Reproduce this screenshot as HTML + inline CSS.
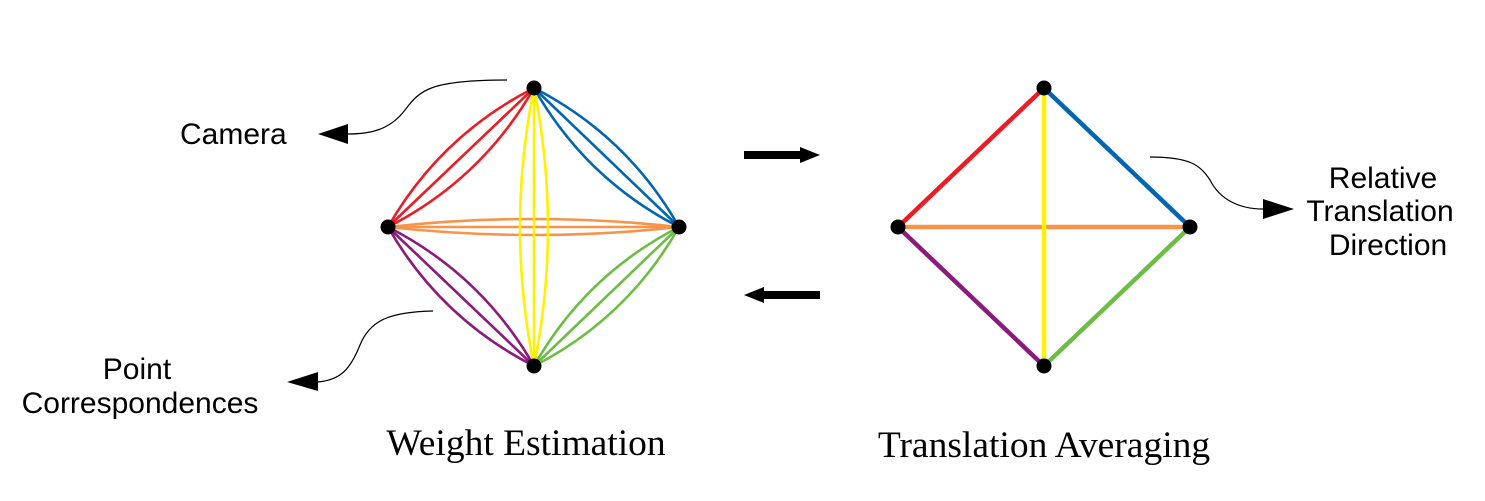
<!DOCTYPE html>
<html><head><meta charset="utf-8"><style>
html,body{margin:0;padding:0;background:#fff;width:1485px;height:501px;overflow:hidden}
svg{display:block}
.s{font-family:"Liberation Sans",sans-serif;font-size:30px;fill:#000}
.t{font-family:"Liberation Serif",serif;font-size:37.5px;fill:#000}
</style></head><body>
<svg id="g" width="1485" height="501" viewBox="0 0 1485 501" xmlns="http://www.w3.org/2000/svg">
<g id="left" fill="none" stroke-width="2.6"></g>
<g fill="none" stroke-width="4.5" stroke-linecap="round">
<line x1="1044" y1="88" x2="898" y2="227" stroke="#ec1c24"/>
<line x1="1044" y1="88" x2="1190" y2="227" stroke="#0066b3"/>
<line x1="898" y1="227" x2="1044" y2="366" stroke="#8b1a7c"/>
<line x1="1190" y1="227" x2="1044" y2="366" stroke="#6dbd45"/>
<line x1="898" y1="227" x2="1190" y2="227" stroke="#f7944a"/>
<line x1="1044" y1="88" x2="1044" y2="366" stroke="#fff200"/>
</g>
<g fill="#000">
<circle cx="534" cy="88" r="7.5"/><circle cx="388" cy="227" r="7.5"/><circle cx="679" cy="227" r="7.5"/><circle cx="534" cy="366" r="7.5"/>
<circle cx="1044" cy="88" r="7.5"/><circle cx="898" cy="227" r="7.5"/><circle cx="1190" cy="227" r="7.5"/><circle cx="1044" cy="366" r="7.5"/>
<polygon points="744,151 800,151 800,147 820,155 800,163 800,159 744,159"/>
<polygon points="820,291 764,291 764,287 744,295 764,303 764,299 820,299"/>
<polygon points="318,134 348,124 348,144"/>
<polygon points="287,382 318,372 318,391"/>
<polygon points="1294,209 1263,199 1263,219"/>
</g>
<g fill="none" stroke="#000" stroke-width="1.2">
<path d="M507,80 C430,80 420,90 405,110 C390,130 370,134 348,134"/>
<path d="M433,311 C390,312 370,320 360,345 C350,370 340,380 318,382"/>
<path d="M1150,157 C1190,157 1200,165 1210,180 C1220,200 1240,209 1263,209"/>
</g>
<text class="s" x="180" y="144">Camera</text>
<text class="s" x="137" y="379" text-anchor="middle">Point</text>
<text class="s" x="140" y="413" text-anchor="middle">Correspondences</text>
<text class="s" x="1383" y="188" text-anchor="middle">Relative</text>
<text class="s" x="1380" y="221" text-anchor="middle">Translation</text>
<text class="s" x="1388" y="255" text-anchor="middle">Direction</text>
<text class="t" x="526" y="455" text-anchor="middle">Weight Estimation</text>
<text class="t" x="1044" y="457" text-anchor="middle">Translation Averaging</text>
</svg>
<script>
var L=document.getElementById('left');
var T=[534,88],Lf=[388,227],R=[679,227],B=[534,366];
var E=[[T,Lf,'#ec1c24',30],[T,R,'#0066b3',30],[Lf,B,'#8b1a7c',30],[R,B,'#6dbd45',30],[Lf,R,'#f7944a',16],[T,B,'#fff200',28]];
E.forEach(function(e){var a=e[0],b=e[1],dx=b[0]-a[0],dy=b[1]-a[1],l=Math.hypot(dx,dy),nx=-dy/l,ny=dx/l,mx=(a[0]+b[0])/2,my=(a[1]+b[1])/2;
[-1,0,1].forEach(function(k){var p=document.createElementNS('http://www.w3.org/2000/svg','path');
p.setAttribute('d','M'+a[0]+','+a[1]+' Q'+(mx+k*e[3]*nx)+','+(my+k*e[3]*ny)+' '+b[0]+','+b[1]);p.setAttribute('stroke',e[2]);L.appendChild(p);});});
</script>
</body></html>
